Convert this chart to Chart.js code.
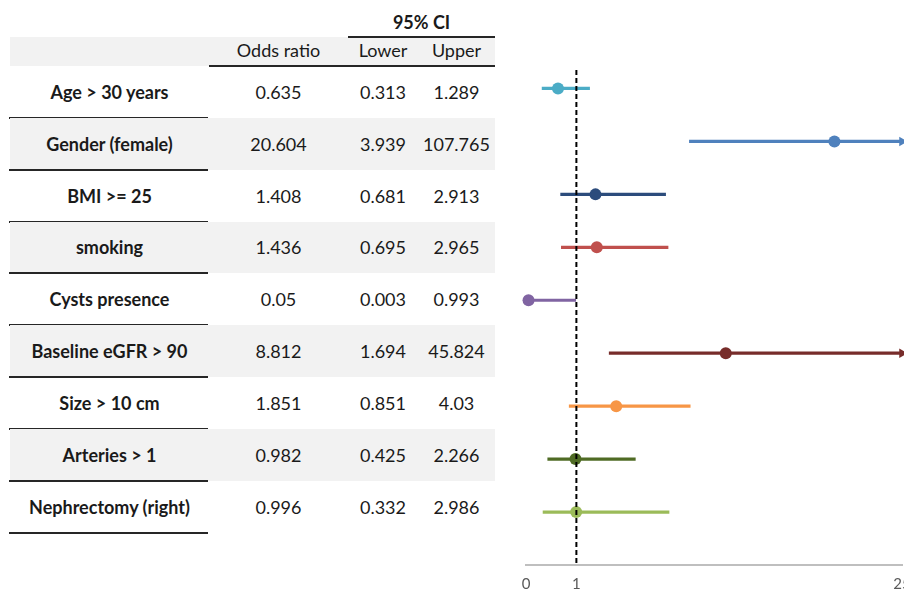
<!DOCTYPE html>
<html>
<head>
<meta charset="utf-8">
<title>Odds ratios with 95% CI</title>
<script src="https://cdn.jsdelivr.net/npm/chart.js@4.4.1/dist/chart.umd.min.js"></script>
<style>
  html, body { margin: 0; padding: 0; background: #fff; overflow: hidden; width: 904px; height: 592px; }
  body { position: relative; font-family: Lato, 'Open Sans', sans-serif; color: #1a1a1a; }
  #plot { position: absolute; left: 0; top: 0; width: 940px; height: 603px; }
  .cell { position: absolute; display: flex; align-items: center; justify-content: center; font-size: 18px; white-space: nowrap; }
  .band { position: absolute; background: #f2f2f2; }
  .rule { position: absolute; height: 2px; background: #262626; }
  .bold { font-weight: 700; }
</style>
</head>
<body>
<div id="table"></div>
<div id="plot"><canvas id="chart"></canvas></div>
<script>
const categories = ['Age > 30 years', 'Gender (female)', 'BMI >= 25', 'smoking', 'Cysts presence',
                    'Baseline eGFR > 90', 'Size > 10 cm', 'Arteries > 1', 'Nephrectomy (right)'];
const oddsRatio = [0.635, 20.604, 1.408, 1.436, 0.05, 8.812, 1.851, 0.982, 0.996];
const ciLower   = [0.313, 3.939, 0.681, 0.695, 0.003, 1.694, 0.851, 0.425, 0.332];
const ciUpper   = [1.289, 107.765, 2.913, 2.965, 0.993, 45.824, 4.03, 2.266, 2.986];
const xTicks = [0, 1, 25];

const rowColors = ['#4bacc6', '#4f81bd', '#2c4c7c', '#c0504d', '#8064a2',
                   '#772c2a', '#f79646', '#4f6b24', '#9bbb59'];

// the x axis in the figure is stretched below 3 and squeezed above it
const axisKnots = [[0, 0], [1, 0.134], [3, 0.383], [4, 0.437], [9, 0.535], [21, 0.830], [25, 1]];
const X_MAX = 25;

// ---- table on the left ----
const tbl = document.getElementById('table');
function add(cls, left, top, width, height, text) {
  const d = document.createElement('div');
  d.className = cls;
  d.style.left = left + 'px';
  d.style.top = top + 'px';
  d.style.width = width + 'px';
  if (height) d.style.height = height + 'px';
  if (text !== undefined) d.textContent = text;
  tbl.appendChild(d);
  return d;
}
const rowTop = 66, rowH = 51.85;
const cols = [[10, 199], [209, 139], [348, 70], [418, 77]];

add('band', 10, 37, 485, 29);
add('cell bold', 348, 8, 147, 28, '95% CI');
add('rule', 348, 36, 147);
add('cell', cols[1][0], 35, cols[1][1], 29, 'Odds ratio');
add('cell', cols[2][0], 35, cols[2][1], 29, 'Lower');
add('cell', cols[3][0], 35, cols[3][1], 29, 'Upper');
add('rule', 209, 65, 286);

categories.forEach((name, i) => {
  const top = rowTop + i * rowH;
  if (i % 2 === 1) add('band', 10, top, 485, rowH);
  add('cell bold', cols[0][0], top, cols[0][1], rowH, name);
  add('cell', cols[1][0], top, cols[1][1], rowH, String(oddsRatio[i]));
  add('cell', cols[2][0], top, cols[2][1], rowH, String(ciLower[i]));
  add('cell', cols[3][0], top, cols[3][1], rowH, String(ciUpper[i]));
  add('rule', 9, top + rowH - 1, 199);
});

// ---- forest plot ----
class WarpedScale extends Chart.LinearScale {
  static id = 'warped';
  static defaults = Chart.LinearScale.defaults;

  warp(v) {
    if (v <= axisKnots[0][0]) return axisKnots[0][1];
    for (let j = 1; j < axisKnots.length; j++) {
      if (v <= axisKnots[j][0]) {
        const [x0, f0] = axisKnots[j - 1], [x1, f1] = axisKnots[j];
        return f0 + (v - x0) / (x1 - x0) * (f1 - f0);
      }
    }
    return 1;
  }
  getPixelForValue(value) {
    return value === null ? NaN : this.getPixelForDecimal(this.warp(value));
  }
  getValueForPixel(pixel) {
    const f = this.getDecimalForPixel(pixel);
    for (let j = 1; j < axisKnots.length; j++) {
      if (f <= axisKnots[j][1]) {
        const [x0, f0] = axisKnots[j - 1], [x1, f1] = axisKnots[j];
        return x0 + (f - f0) / (f1 - f0) * (x1 - x0);
      }
    }
    return X_MAX;
  }
}
Chart.register(WarpedScale);

const datasets = [];
// reference line at OR = 1
datasets.push({
  data: [{x: 1, y: -0.35}, {x: 1, y: 9}],
  showLine: true, borderColor: '#000', borderWidth: 2, borderDash: [5, 3],
  pointRadius: 0, order: 0, clip: false
});
// odds ratio points
datasets.push({
  data: oddsRatio.map((v, i) => ({x: v, y: i})),
  pointRadius: 6, pointBackgroundColor: rowColors, pointBorderWidth: 0,
  order: 1, clip: false
});
// confidence intervals, an arrow where the upper bound runs off the axis
categories.forEach((c, i) => {
  const capped = ciUpper[i] > X_MAX;
  datasets.push({
    data: [{x: ciLower[i], y: i}, {x: Math.min(ciUpper[i], X_MAX), y: i}],
    showLine: true, borderColor: rowColors[i], borderWidth: 3.2,
    pointRadius: [0, capped ? 5.5 : 0], pointStyle: 'triangle', rotation: 90,
    pointBackgroundColor: rowColors[i], pointBorderWidth: 0,
    order: 2, clip: false
  });
});

new Chart(document.getElementById('chart'), {
  type: 'scatter',
  data: { datasets },
  options: {
    responsive: true,
    maintainAspectRatio: false,
    animation: false,
    events: [],
    layout: { padding: { left: 526, right: 38, top: 62, bottom: 0 } },
    plugins: { legend: { display: false }, tooltip: { enabled: false } },
    scales: {
      x: {
        type: 'warped',
        min: 0,
        max: X_MAX,
        afterBuildTicks: (s) => { s.ticks = xTicks.map(v => ({value: v})); },
        grid: { display: false, drawTicks: false },
        border: { display: true, color: '#bfbfbf', width: 2 },
        ticks: { color: '#595959', padding: 10, font: { family: 'Lato', size: 15 }, maxRotation: 0 }
      },
      y: {
        type: 'linear',
        reverse: true,
        min: -0.5,
        max: 9,
        display: false
      }
    }
  }
});
</script>
</body>
</html>
